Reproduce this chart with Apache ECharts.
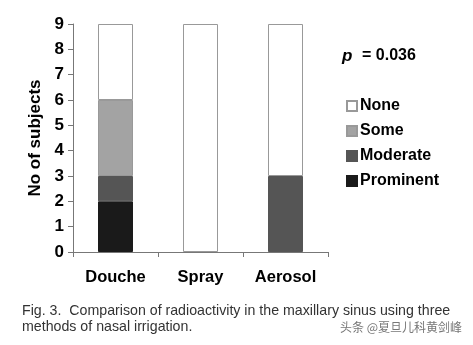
<!DOCTYPE html>
<html><head><meta charset="utf-8">
<script src="https://cdn.jsdelivr.net/npm/echarts@6/dist/echarts.min.js"></script>
<style>html,body{margin:0;padding:0;background:#fff}#c{width:473px;height:345px}</style>
</head><body><div id="c"></div>
<script>
const categories = ['Douche', 'Spray', 'Aerosol'];
const prominent = [2, 0, 0];
const moderate = [1, 0, 3];
const some = [3, 0, 0];
const none = [3, 9, 6];
const yTicks = [0, 1, 2, 3, 4, 5, 6, 7, 8, 9];
const FONT = '"Liberation Sans", Arial, sans-serif';

const chart = echarts.init(document.getElementById('c'));
const mk = (name, data, color, border) => ({
  name, type: 'bar', stack: 's', data: data.map(v => v === 0 ? null : v), barWidth: 35,
  itemStyle: { color, borderColor: border, borderWidth: 1 },
  emphasis: { disabled: true }
});
chart.setOption({
  animation: false,
  textStyle: { fontFamily: FONT },
  grid: { left: 73, right: 145, top: 24, bottom: 93 },
  xAxis: {
    type: 'category', data: categories,
    axisLine: { lineStyle: { color: '#777', width: 1 } },
    axisTick: { show: true, length: 5, lineStyle: { color: '#777' } },
    axisLabel: { color: '#000', fontWeight: 'bold', fontSize: 16.5, fontFamily: FONT, margin: 17 }
  },
  yAxis: {
    type: 'value', min: yTicks[0], max: yTicks[yTicks.length - 1], interval: 1,
    name: 'No of subjects', nameLocation: 'middle', nameGap: 29,
    nameTextStyle: { color: '#000', fontWeight: 'bold', fontSize: 17, fontFamily: FONT, verticalAlign: 'middle' },
    axisLine: { show: true, lineStyle: { color: '#777', width: 1 } },
    axisTick: { show: true, length: 5, lineStyle: { color: '#777' } },
    splitLine: { show: false },
    axisLabel: { color: '#000', fontWeight: 'bold', fontSize: 17, fontFamily: FONT, margin: 9 }
  },
  legend: {
    data: ['None', 'Some', 'Moderate', 'Prominent'],
    orient: 'vertical', left: 341, top: 93,
    icon: 'rect', itemWidth: 10, itemHeight: 10, itemGap: 9,
    textStyle: { color: '#000', fontWeight: 'bold', fontSize: 16, fontFamily: FONT, padding: [0, 0, 0, -2] }
  },
  graphic: [
    { type: 'text', left: 342, top: 48, style: { text: 'p', font: 'italic bold 17px ' + FONT, fill: '#000' } },
    { type: 'text', left: 362, top: 48, style: { text: '= 0.036', font: 'bold 16px ' + FONT, fill: '#000' } },
    { type: 'text', left: 22, top: 304, style: { text: 'Fig. 3.  Comparison of radioactivity in the maxillary sinus using three', font: '14.2px ' + FONT, fill: '#333' } },
    { type: 'text', left: 22, top: 320, style: { text: 'methods of nasal irrigation.', font: '14.2px ' + FONT, fill: '#333' } },
    { type: 'text', left: 340, top: 321, style: { text: '头条 @夏旦儿科黄剑峰', font: '12px "Noto Sans CJK SC"', fill: '#777' } }
  ],
  series: [
    mk('Prominent', prominent, '#1a1a1a', '#1a1a1a'),
    mk('Moderate', moderate, '#555555', '#555555'),
    mk('Some', some, '#a3a3a3', '#999'),
    mk('None', none, '#ffffff', '#999')
  ]
});
</script></body></html>
